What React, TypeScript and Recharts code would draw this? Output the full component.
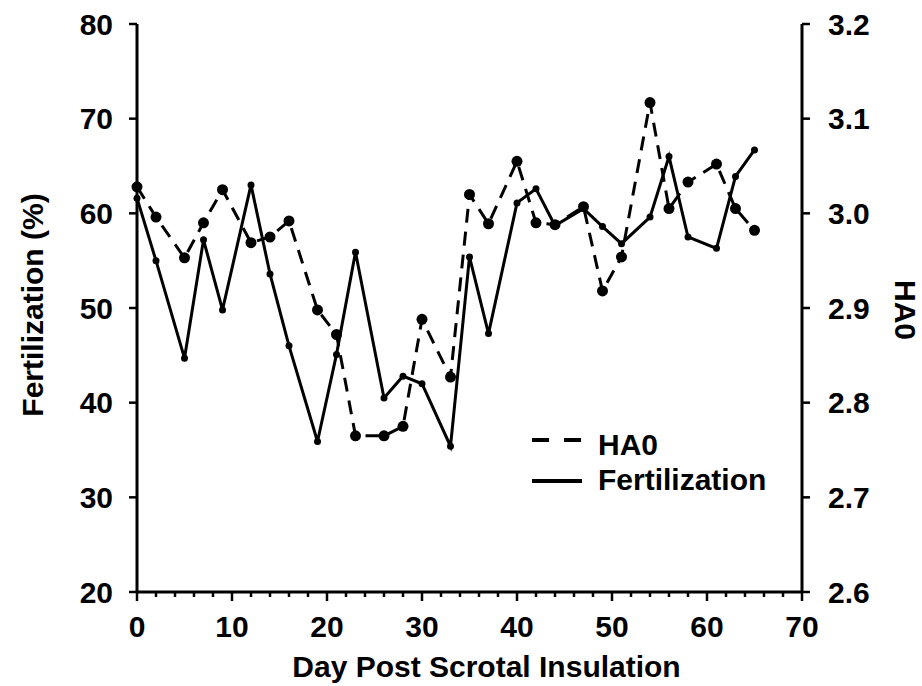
import { LineChart, Line, XAxis, YAxis, Legend } from 'recharts';

// sampling days after scrotal insulation
const days = [0, 2, 5, 7, 9, 12, 14, 16, 19, 21, 23, 26, 28, 30, 33, 35, 37, 40, 42, 44, 47, 49, 51, 54, 56, 58, 61, 63, 65];

// fertilization rate (%)
const fertilization = [
  61.6, 55.0, 44.7, 57.2, 49.8, 63.0, 53.6, 46.0, 35.9, 45.1, 55.9, 40.5, 42.8, 42.0, 35.4,
  55.4, 47.3, 61.1, 62.6, 58.7, 60.5, 58.6, 56.8, 59.6, 66.0, 57.5, 56.3, 63.9, 66.7,
];

// HA0 index
const ha0 = [
  3.028, 2.996, 2.953, 2.99, 3.025, 2.969, 2.975, 2.992, 2.898, 2.872, 2.765, 2.765, 2.775, 2.888, 2.827,
  3.02, 2.989, 3.055, 2.99, 2.988, 3.007, 2.918, 2.954, 3.117, 3.005, 3.033, 3.052, 3.005, 2.982,
];

const xTicks = [0, 2, 4, 6, 8, 10, 12, 14, 16, 18, 20, 22, 24, 26, 28, 30, 32, 34, 36, 38, 40, 42, 44, 46, 48, 50, 52, 54, 56, 58, 60, 62, 64, 66, 68, 70];
const leftTicks = [20, 30, 40, 50, 60, 70, 80];
const rightTicks = [2.6, 2.7, 2.8, 2.9, 3.0, 3.1, 3.2];

const data = days.map((day, i) => ({ day, fertilization: fertilization[i], ha0: ha0[i] }));

const FONT = 'Liberation Sans, Arial, Helvetica, sans-serif';
const textStyle = { fill: '#000', fontSize: 30, fontWeight: 700, fontFamily: FONT };

// minor ticks every 2 days, labelled major ticks every 10
const XTick = (props: any) => {
  const { x, y, payload } = props;
  const major = payload.value % 10 === 0;
  return (
    <g>
      <line x1={x} x2={x} y1={y} y2={y + (major ? 9 : 5)} stroke="#000" strokeWidth={2.5} />
      {major && (
        <text x={x} y={y + 24} dy="0.71em" textAnchor="middle" {...textStyle}>
          {payload.value}
        </text>
      )}
    </g>
  );
};

const LegendBox = () => (
  <svg width={260} height={85}>
    <line x1={7} x2={57} y1={20} y2={20} stroke="#000" strokeWidth={4} strokeDasharray="17 15" />
    <text x={73} y={35} {...textStyle}>HA0</text>
    <line x1={7} x2={57} y1={61} y2={61} stroke="#000" strokeWidth={4} />
    <text x={73} y={70} {...textStyle}>Fertilization</text>
  </svg>
);

export default function App() {
  return (
    <div style={{ position: 'absolute', left: 0, top: 0, width: 922, height: 686, background: '#fff' }}>
      <LineChart width={922} height={686} data={data} margin={{ top: 24, right: 40, bottom: 34, left: 57 }}>
        <XAxis
          dataKey="day"
          type="number"
          domain={[0, 70]}
          ticks={xTicks}
          interval={0}
          height={60}
          tickSize={0}
          tickMargin={0}
          tickLine={false}
          axisLine={{ stroke: '#000', strokeWidth: 3 }}
          tick={<XTick />}
          label={{
            content: (p: any) => {
              const vb = p.viewBox;
              return (
                <text x={vb.x + vb.width / 2 + 17} y={vb.y + 85} textAnchor="middle" {...textStyle}>
                  Day Post Scrotal Insulation
                </text>
              );
            },
          }}
        />
        <YAxis
          yAxisId="left"
          domain={[20, 80]}
          ticks={leftTicks}
          interval={0}
          width={80}
          tickSize={8}
          tickMargin={16}
          axisLine={{ stroke: '#000', strokeWidth: 3 }}
          tickLine={{ stroke: '#000', strokeWidth: 2.5 }}
          tick={textStyle}
          label={{
            content: (p: any) => {
              const vb = p.viewBox;
              const cx = vb.x - 25;
              const cy = vb.y + vb.height / 2 - 3;
              return (
                <text transform={`translate(${cx}, ${cy}) rotate(-90)`} textAnchor="middle" dominantBaseline="central" {...textStyle}>
                  Fertilization (%)
                </text>
              );
            },
          }}
        />
        <YAxis
          yAxisId="right"
          orientation="right"
          domain={[2.6, 3.2]}
          ticks={rightTicks}
          interval={0}
          width={80}
          tickSize={8}
          tickMargin={18}
          tickFormatter={(v: number) => v.toFixed(1)}
          axisLine={{ stroke: '#000', strokeWidth: 3 }}
          tickLine={{ stroke: '#000', strokeWidth: 2.5 }}
          tick={textStyle}
          label={{
            content: (p: any) => {
              const vb = p.viewBox;
              const cx = vb.x + vb.width + 23;
              const cy = vb.y + vb.height / 2 + 2;
              return (
                <text transform={`translate(${cx}, ${cy}) rotate(90)`} textAnchor="middle" dominantBaseline="central" {...textStyle}>
                  HA0
                </text>
              );
            },
          }}
        />
        <Legend
          layout="vertical"
          align="center"
          verticalAlign="middle"
          content={<LegendBox />}
          wrapperStyle={{ left: 525, top: 420, width: 260, height: 85 }}
        />
        <Line
          yAxisId="right"
          type="linear"
          dataKey="ha0"
          stroke="#000"
          strokeWidth={3}
          strokeDasharray="14 9"
          dot={{ r: 5.5, fill: '#000', stroke: 'none' }}
          activeDot={false}
          isAnimationActive={false}
        />
        <Line
          yAxisId="left"
          type="linear"
          dataKey="fertilization"
          stroke="#000"
          strokeWidth={3}
          dot={{ r: 3.5, fill: '#000', stroke: 'none' }}
          activeDot={false}
          isAnimationActive={false}
        />
      </LineChart>
    </div>
  );
}
